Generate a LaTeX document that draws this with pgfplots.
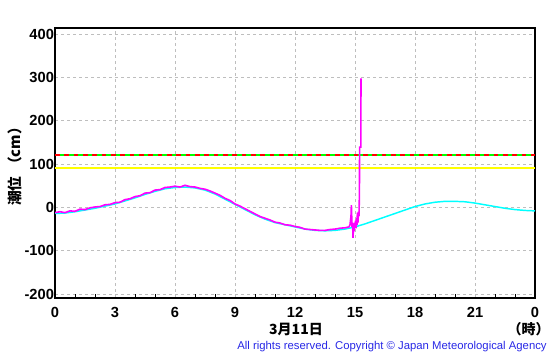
\documentclass[border=0pt]{standalone}
\usepackage{pgfplots}
\pgfplotsset{compat=1.18}
\usepackage{fontspec}
\setmainfont{Liberation Sans}
\newfontfamily\jp{Noto Sans CJK JP}
\definecolor{gridc}{RGB}{190,190,190}
\definecolor{cpblue}{RGB}{40,40,230}
\definecolor{cyanc}{RGB}{0,255,255}
\definecolor{magc}{RGB}{255,0,255}
\definecolor{greenc}{RGB}{0,255,0}
\definecolor{redc}{RGB}{255,0,0}
\definecolor{yelc}{RGB}{255,255,0}
\begin{document}
\begin{tikzpicture}[x=0.75pt,y=0.75pt]
\path[use as bounding box] (-55,-58) rectangle (502,298);
\begin{axis}[
  at={(0,0)}, anchor=south west, scale only axis,
  width=360pt, height=202.5pt,
  xmin=0, xmax=24, ymin=-209, ymax=414,
  xtick={0,3,...,24}, xticklabels={0,3,6,9,12,15,18,21,0},
  ytick={-200,-100,0,100,200,300,400},
  minor x tick num=2,
  xtick pos=left, ytick pos=left,
  tick align=inside,
  major tick length=0pt, minor tick length=3pt,
  tick style={black, line width=0.75pt},
  xmajorgrids, ymajorgrids,
  major grid style={gridc, line width=0.75pt, dash pattern=on 2.25pt off 2.25pt},
  axis line style={black, line width=1.2pt},
  /pgf/number format/assume math mode=true,
  ticklabel style={font=\bfseries\fontsize{11}{13}\selectfont},
  xticklabel style={anchor=north, inner sep=0pt, yshift=-6.5pt},
  yticklabel style={anchor=east, inner sep=0pt, xshift=-0.6pt},
  clip=true,
]
\addplot[greenc, line width=1.5pt] coordinates {(0,121) (24,121)};
\addplot[redc, line width=1.5pt, dash pattern=on 3.5pt off 3.5pt] coordinates {(0,121) (24,121)};
\addplot[yelc, line width=1.6pt] coordinates {(0,91) (24,91)};
% astronomical tide (cyan)
\addplot[cyanc, line width=1.1pt] coordinates {
(0,-14) (0.5,-13) (1,-10) (1.5,-6) (2,-2) (2.5,3) (3,8) (3.5,15) (4,22) (4.5,30)
(5,37) (5.5,43) (6,46) (6.5,47) (7,45) (7.5,40) (8,31) (8.5,19) (9,7) (9.5,-5)
(10,-17) (10.5,-27) (11,-35) (11.5,-40) (12,-45) (12.5,-50) (13,-53) (13.5,-54)
(14,-53) (14.5,-50) (15,-45) (15.5,-38) (16,-30) (16.5,-22) (17,-14) (17.5,-6)
(18,2) (18.5,8) (19,12) (19.5,14) (20,14) (20.5,13) (21,10) (21.5,6) (22,2)
(22.5,-2) (23,-5) (23.5,-7) (24,-8)};
% observed (magenta)
\addplot[magc, line width=1.2pt] coordinates {
(0,-12) (0.25,-10) (0.5,-12) (0.75,-8) (1,-9) (1.25,-4) (1.5,-5) (1.75,-1) (2,1)
(2.25,2) (2.5,6) (2.75,7) (3,11) (3.25,12) (3.5,18) (3.75,20) (4,25) (4.25,27)
(4.5,33) (4.75,34) (5,40) (5.25,41) (5.5,46) (5.75,47) (6,49) (6.25,47) (6.5,51)
(6.75,48) (7,47) (7.25,44) (7.5,42) (7.75,38) (8,33) (8.25,28) (8.5,21) (8.75,16)
(9,8) (9.25,3) (9.5,-3) (9.75,-9) (10,-15) (10.25,-21) (10.5,-25) (10.75,-29)
(11,-34) (11.25,-36) (11.5,-40) (11.75,-41) (12,-44) (12.25,-46) (12.5,-50)
(12.75,-51) (13,-52) (13.25,-53) (13.5,-53) (13.75,-51) (14,-50) (14.25,-48)
(14.5,-47) (14.7,-45) (14.75,-40) (14.8,-20) (14.82,5) (14.85,-45) (14.88,-35)
(14.9,-70) (14.93,-40) (14.95,-55) (14.98,-35) (15.0,-45) (15.03,-30) (15.05,-48)
(15.08,-25) (15.1,-40) (15.12,-12) (15.15,-35) (15.17,-10) (15.2,-20) (15.22,30)
(15.23,139) (15.29,139) (15.3,298)};
\end{axis}
\node[font=\jp\bfseries\fontsize{10.5}{12}\selectfont, inner sep=0pt] at (241,-31) {3月11日};
\node[font=\jp\bfseries\fontsize{10.5}{12}\selectfont, inner sep=0pt, anchor=east] at (495,-31) {（時）};
\node[font=\jp\bfseries\fontsize{11}{12}\selectfont, inner sep=0pt, rotate=90] at (-40,135) {潮位\hspace{0.3em}（cm）};
\node[inner sep=0pt, text=cpblue] at (337,-48.5) {\resizebox{232pt}{!}{\fontsize{7.5}{9}\selectfont All rights reserved. Copyright \textcopyright{} Japan Meteorological Agency}};
\end{tikzpicture}
\end{document}
